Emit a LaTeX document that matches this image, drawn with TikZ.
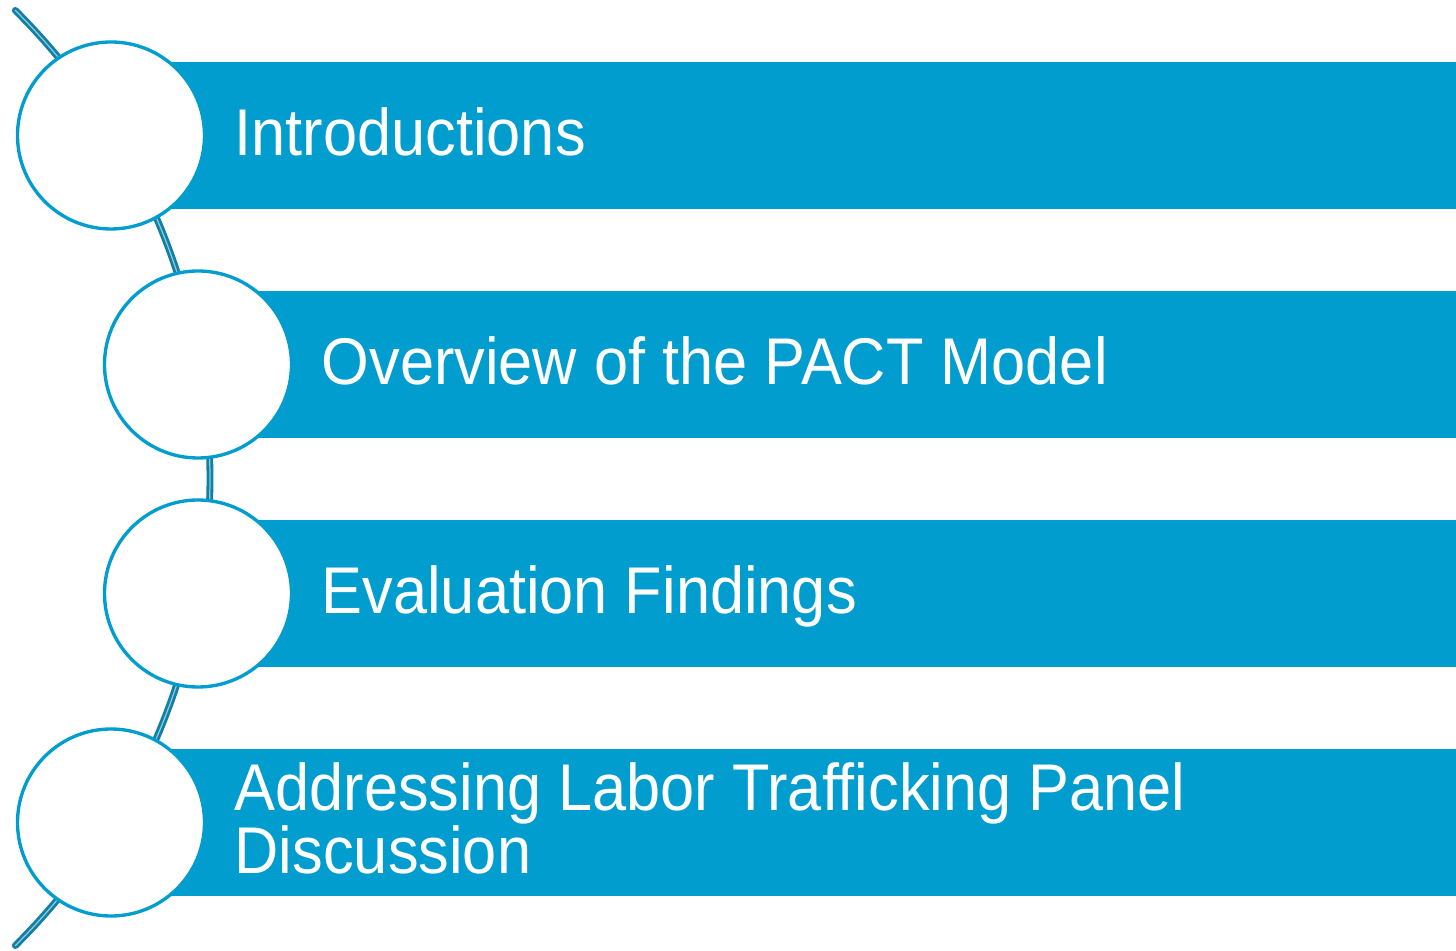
\documentclass[tikz,border=0pt]{standalone}
\usepackage{fontspec}
\setmainfont{Liberation Sans}
\newfontfamily\stepfont[FakeStretch=0.928]{Liberation Sans}
\usetikzlibrary{positioning}

\definecolor{barblue}{HTML}{009DCE}
\definecolor{arcteal}{HTML}{127FA3}
\definecolor{arclight}{HTML}{8CCBE0}

\tikzset{
  stepbar/.style={rectangle, fill=barblue, draw=none, anchor=west,
    minimum height=1.47cm, inner sep=0pt},
  stepdot/.style={circle, draw=barblue, fill=white, line width=0.95pt,
    minimum size=1.87cm, inner sep=0pt},
  steplabel/.style={text=white, anchor=base west, inner sep=0pt, align=left,
    font=\stepfont\fontsize{18.8}{17.9}\selectfont},
  spine/.style={draw=arcteal, double=arclight, line width=0.8pt,
    double distance=0.35pt, line cap=round},
}

\begin{document}
\begin{tikzpicture}
    \useasboundingbox (0,0) rectangle (14.56,-9.51);

    % spine behind the circles
    \coordinate (spinecentre) at (-4.49,-4.78);
    \draw[spine] (spinecentre) ++(45.2:6.59) arc[start angle=45.2, end angle=-45.2, radius=6.59];

    % steps
    \foreach \i/\x/\y/\base/\txt in {
        1/1.11/-1.355/-1.56/{Introductions},
        2/1.98/-3.645/-3.85/{Overview of the PACT Model},
        3/1.98/-5.935/-6.14/{Evaluation Findings},
        4/1.11/-8.225/-8.73/{Addressing Labor Trafficking Panel\\Discussion}} {
        \node[stepbar, minimum width={(14.56cm-\x cm)}] (b\i) at (\x,\y) {};
        \node[stepdot] (c\i) at (\x,\y) {};
        \node[steplabel] (t\i) at (\x+1.23,\base) {\txt};
    }
\end{tikzpicture}
\end{document}
